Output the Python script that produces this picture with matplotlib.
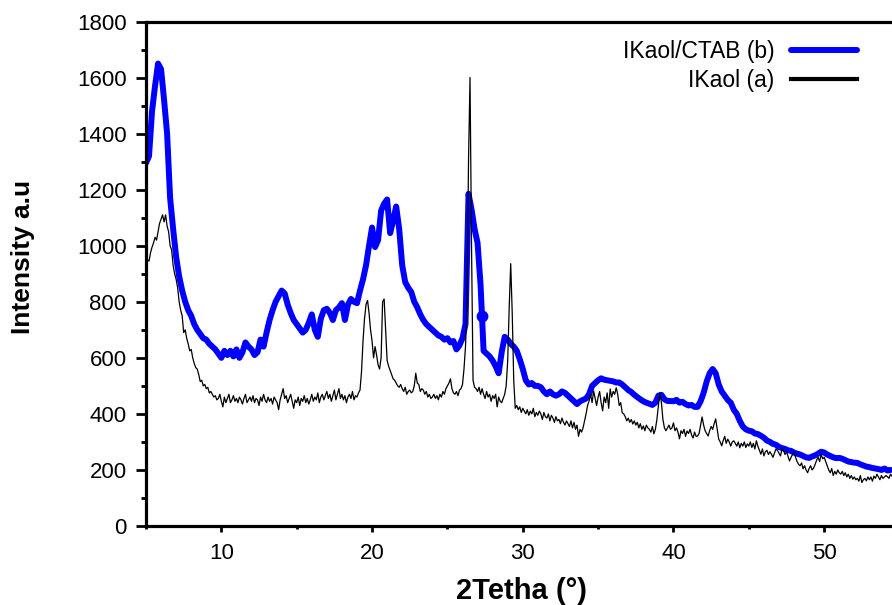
import numpy as np
import matplotlib
matplotlib.use('Agg')
import matplotlib.pyplot as plt
from matplotlib.ticker import MultipleLocator

plt.rcParams['font.family'] = ['Liberation Sans', 'DejaVu Sans']

# IKaol/CTAB (b): step 0.2 deg from 5.0, one line per degree
intensity_b = [
    1295, 1320, 1480, 1570, 1650,
    1630, 1520, 1400, 1170, 1060,
    960, 890, 840, 800, 770,
    750, 720, 700, 685, 670,
    665, 650, 640, 630, 615,
    600, 625, 610, 625, 605,
    630, 600, 620, 655, 640,
    630, 610, 620, 665, 640,
    690, 735, 770, 800, 820,
    840, 830, 790, 760, 735,
    720, 705, 690, 700, 725,
    755, 700, 675, 740, 770,
    775, 760, 735, 770, 780,
    795, 735, 790, 810, 800,
    795, 840, 880, 930, 1000,
    1065, 995, 1020, 1125, 1150,
    1165, 1045, 1090, 1140, 1060,
    930, 870, 850, 835, 800,
    780, 755, 735, 720, 710,
    700, 690, 680, 675, 665,
    670, 655, 660, 630, 645,
    670, 720, 1185, 1130, 1060,
    1010, 860, 625, 615, 605,
    590, 570, 545, 620, 675,
    665, 650, 640, 625, 595,
    560, 520, 505, 510, 500,
    500, 495, 480, 470, 480,
    470, 465, 470, 480, 475,
    465, 455, 445, 435, 445,
    450, 455, 470, 500, 510,
    520, 527, 522, 520, 518,
    516, 512, 512, 505, 495,
    485, 478, 468, 460, 452,
    445, 440, 436, 432, 440,
    465, 468, 452, 446, 446,
    445, 450, 440, 443, 435,
    430, 432, 425, 425, 445,
    475, 515, 545, 560, 545,
    505, 480, 465, 450, 440,
    415, 400, 375, 355, 345,
    340, 338, 330, 328, 322,
    315, 305, 300, 293, 290,
    282, 278, 275, 270, 268,
    262, 258, 255, 250, 245,
    243, 248, 252, 258, 265,
    262, 255, 250, 245, 242,
    243, 240, 235, 230, 228,
    226, 225, 220, 216, 212,
    210, 207, 205, 203, 200,
    205, 198, 200,
]
two_theta_b = 5.0 + 0.2 * np.arange(len(intensity_b))

# odd dot sitting on curve (b)
dot_x = [27.3]
dot_y = [750]

# IKaol (a): step 0.1 deg from 5.0, one line per degree
intensity_a = [
    940, 950, 945, 975, 995, 1010, 1030, 1020, 1050, 1080,
    1095, 1110, 1085, 1110, 1070, 1050, 1000, 985, 930, 900,
    880, 850, 800, 770, 750, 690, 700, 670, 650, 625,
    630, 600, 580, 565, 560, 540, 515, 520, 500, 505,
    490, 495, 475, 480, 470, 460, 465, 450, 455, 470,
    445, 425, 460, 440, 455, 470, 440, 450, 465, 445,
    455, 440, 460, 450, 435, 455, 470, 440, 450, 460,
    445, 465, 440, 455, 450, 430, 460, 445, 470, 450,
    440, 460, 445, 455, 435, 460, 450, 440, 415, 450,
    470, 490, 455, 465, 440, 455, 470, 445, 420, 450,
    440, 460, 430, 455, 445, 465, 440, 455, 435, 450,
    470, 445, 460, 450, 475, 440, 460, 470, 450, 465,
    480, 455, 470, 445, 465, 485, 450, 470, 490, 455,
    470, 450, 465, 440, 460, 470, 455, 480, 450, 465,
    460, 475, 485, 550, 660, 740, 790, 805, 760, 700,
    660, 600, 640, 610, 575, 560, 600, 800, 810, 700,
    590, 570, 555, 540, 525, 520, 510, 500, 495, 505,
    490, 480, 495, 470, 480, 485, 475, 480, 500, 545,
    510, 505, 480, 490, 485, 470, 480, 460, 470, 455,
    460, 470, 455, 465, 450, 470, 460, 480, 470, 490,
    500, 510, 525, 490, 475, 470, 480, 465, 485, 490,
    505, 560, 640, 800, 1300, 1600, 1000, 520, 495, 490,
    480, 495, 470, 490, 470, 455, 480, 460, 470, 445,
    465, 455, 470, 425, 460, 445, 440, 455, 470, 500,
    590, 780, 936, 760, 520, 420, 430, 415, 425, 405,
    420, 410, 400, 415, 395, 410, 400, 420, 390, 405,
    395, 410, 400, 380, 405, 390, 385, 400, 375, 395,
    385, 370, 390, 375, 380, 365, 385, 370, 360, 375,
    365, 355, 375, 350, 370, 345, 360, 320, 345, 335,
    350, 375, 400, 430, 446, 470, 440, 482, 455, 430,
    460, 480, 440, 411, 460, 440, 475, 420, 489, 460,
    480, 470, 493, 470, 430, 440, 404, 400, 390, 375,
    385, 370, 380, 364, 375, 360, 370, 350, 365, 345,
    357, 340, 360, 350, 345, 335, 355, 329, 345, 380,
    430, 475, 440, 380, 350, 340, 350, 360, 345, 350,
    368, 340, 350, 335, 311, 340, 330, 345, 320, 339,
    330, 345, 325, 314, 335, 320, 321, 330, 360, 389,
    360, 340, 330, 321, 340, 355, 345, 365, 382, 345,
    310, 300, 286, 305, 320, 295, 310, 300, 285, 300,
    304, 295, 285, 300, 279, 295, 285, 300, 280, 293,
    285, 300, 280, 295, 275, 304, 285, 270, 256, 275,
    250, 265, 270, 255, 265, 256, 245, 260, 275, 270,
    260, 250, 275, 270, 255, 265, 248, 232, 245, 255,
    261, 245, 230, 220, 215, 225, 204, 215, 200, 190,
    205, 215, 200, 207, 220, 235, 245, 230, 256, 240,
    245, 230, 215, 200, 190, 205, 180, 195, 185, 200,
    190, 185, 195, 180, 190, 175, 185, 170, 180, 167,
    175, 165, 170, 160, 180, 155, 165, 170, 161, 175,
    165, 175, 160, 178, 170, 185, 175, 165, 180, 170,
    175, 180, 176, 170, 185, 178,
]
two_theta_a = 5.0 + 0.1 * np.arange(len(intensity_a))

fig = plt.figure(figsize=(8.92, 6.05), dpi=100, facecolor='white')
ax = fig.add_axes([146/892, 79/605, 1 - 146/892, 504.5/605])

ax.plot(two_theta_b, intensity_b, color='#0000ff', lw=4.3, label='IKaol/CTAB (b)',
        solid_joinstyle='round', solid_capstyle='round', zorder=2)
ax.plot(dot_x, dot_y, 'o', color='#0000ff', ms=7.5, zorder=2)
ax.plot(two_theta_a, intensity_a, color='black', lw=0.9, label='IKaol (a)', zorder=3)

ax.set_xlim(5.0, 54.5)
ax.set_ylim(0, 1800)
ax.xaxis.set_major_locator(MultipleLocator(10))
ax.xaxis.set_minor_locator(MultipleLocator(5))
ax.yaxis.set_major_locator(MultipleLocator(200))
ax.yaxis.set_minor_locator(MultipleLocator(100))

for s in ['left', 'bottom', 'top']:
    ax.spines[s].set_linewidth(2.3)
ax.spines['right'].set_visible(False)
ax.tick_params(axis='x', which='major', direction='out', length=4.5, width=2, pad=8,
               labelsize=16)
ax.tick_params(axis='x', which='minor', direction='out', length=2.5, width=2)
ax.tick_params(axis='y', which='major', direction='out', length=7, width=2, pad=7,
               labelsize=16)
ax.tick_params(axis='y', which='minor', direction='out', length=3.5, width=2)

ax.set_xlabel('2Tetha (°)', fontsize=21, fontweight='bold')
ax.set_ylabel('Intensity a.u', fontsize=19, fontweight='bold')
ax.xaxis.set_label_coords(0.504, -0.101)
ax.yaxis.set_label_coords(-0.149, 0.533)

leg = ax.legend(loc='upper right', bbox_to_anchor=(857/892, 1 - 40/605),
                bbox_transform=fig.transFigure, frameon=False, markerfirst=False,
                fontsize=16.5, handlelength=2.9, handletextpad=0.7,
                labelspacing=0.28, borderpad=0, borderaxespad=0)
leg.legend_handles[1].set_linewidth(3)

fig.savefig('out.png', dpi=100, facecolor='white')
